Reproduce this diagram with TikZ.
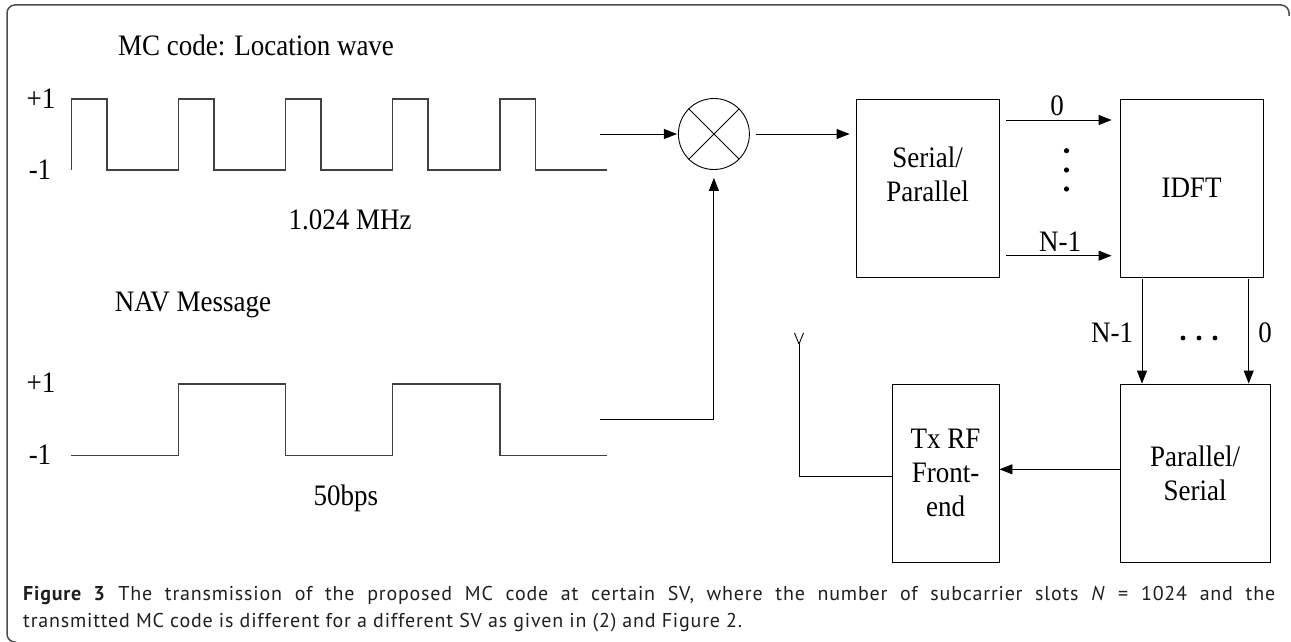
\documentclass[tikz,border=0pt]{standalone}
\usepackage{graphicx}
\usepackage{fontspec}
\setmainfont{Liberation Serif}
\newfontfamily\capfont[LetterSpace=4.0]{PT Sans}
\newcommand\tl[1]{\scalebox{1}[1.1]{#1}}
\usetikzlibrary{arrows.meta}
\begin{document}
\begin{tikzpicture}[x=1pt,y=-1pt,
  lbl/.style={font=\fontsize{27}{34}\selectfont, inner sep=0pt},
  blk/.style={draw, line width=0.9pt, minimum width=#1, minimum height=178pt, inner sep=0pt, align=center, font=\fontsize{27}{34}\selectfont},
  wave/.style={draw=black!75, line width=1.2pt},
  conn/.style={line width=0.9pt},
  arr/.style={conn, -{Triangle[length=13pt,width=10pt]}},
  frame/.style={draw=black!70, line width=1.5pt}
]
\useasboundingbox (0,0) rectangle (1291,642);
% frame
\draw[frame, rounded corners=8pt] (16,642) -- (7,642) -- (7,5) -- (1289,5) -- (1289,16);

% texts of the waves
\node[lbl] (title) at (256,45) {\tl{MC code: Location wave}};
\node[lbl] (pA) at (41,99) {\tl{+1}};
\node[lbl] (mA) at (40,170) {\tl{-1}};
\node[lbl] (fA) at (350,220) {\tl{1.024 MHz}};
\node[lbl] (nav) at (193,305) {\tl{NAV Message}};
\node[lbl] (pB) at (41,383) {\tl{+1}};
\node[lbl] (mB) at (40,455) {\tl{-1}};
\node[lbl] (fB) at (346,498) {\tl{50bps}};

% location wave
\draw[wave] (71.4,170) -- (71.4,99) -- (107,99) -- (107,170) -- (178.4,170) -- (178.4,99) -- (214,99) -- (214,170)
  -- (285.5,170) -- (285.5,99) -- (321,99) -- (321,170) -- (392.5,170) -- (392.5,99) -- (428,99) -- (428,170)
  -- (500,170) -- (500,99) -- (535.7,99) -- (535.7,170) -- (607,170);
% NAV wave
\draw[wave] (71.4,455.7) -- (178.4,455.7) -- (178.4,384) -- (285.5,384) -- (285.5,455.7) -- (392.5,455.7)
  -- (392.5,384) -- (500,384) -- (500,455.7) -- (607,455.7);

% multiplier
\node[draw, circle, line width=0.9pt, minimum size=71pt, inner sep=0pt] (mult) at (713.9,134) {};
\draw[conn] (mult.north west) -- (mult.south east);
\draw[conn] (mult.north east) -- (mult.south west);

% blocks
\node[blk=143pt] (sp) at (927.5,188) {\tl{Serial/}\\\tl{Parallel}\\[-6pt]\mbox{}};
\node[blk=143pt] (idft) at (1191.5,188) {\tl{IDFT}};
\node[blk=150pt] (ps) at (1195,473) {\tl{Parallel/}\\\tl{Serial}};
\node[blk=107pt] (tx) at (945.5,473) {\tl{Tx RF}\\\tl{Front-}\\\tl{end}};

% coordinates
\coordinate (aEnd) at (600,134);
\coordinate (bEnd) at (600,419);
\coordinate (bCorner) at (713.9,419);
\coordinate (ant) at (799,476.7);
\coordinate (antTop) at (799,344);

\draw[arr, shorten >=1pt] (aEnd) -- (mult.west);
\draw[arr, shorten <=6.5pt, shorten >=6pt] (mult.east) -- (sp.west |- mult.east);
\draw[conn] (bEnd) -- (bCorner);
\draw[arr, shorten >=8pt] (bCorner) -- (mult.south);

% S/P to IDFT
\draw[arr, shorten <=7pt, shorten >=8pt] (sp.east |- 0,120) -- (idft.west |- 0,120);
\draw[arr, shorten <=7pt, shorten >=8pt] (sp.east |- 0,255.7) -- (idft.west |- 0,255.7);
\node[lbl] (l0) at (1057,106) {\tl{0}};
\node[lbl] (lN) at (1060,242) {\tl{N-1}};
\foreach \yy [count=\i] in {150.7,170,189} \fill (1066.5,\yy) circle (2.6pt) coordinate (vd\i);

% IDFT to P/S
\draw[arr, shorten <=2pt] (idft.south -| 1142,0) -- (ps.north -| 1142,0);
\draw[arr, shorten <=2pt] (idft.south -| 1248.7,0) -- (ps.north -| 1248.7,0);
\node[lbl] (l2) at (1112,333) {\tl{N-1}};
\node[lbl] (l3) at (1265,333) {\tl{0}};
\foreach \xx [count=\i] in {1183,1199,1215} \fill (\xx,338) circle (2.4pt) coordinate (hd\i);

% P/S to Tx
\draw[arr] (ps.west |- 0,469.3) -- (tx.east |- 0,469.3);
% antenna
\draw[conn] (tx.west |- ant) -- (ant) -- (antTop);
\draw[conn] (antTop) -- (794.5,333);
\draw[conn] (antTop) -- (803.5,333);

% caption
\node[anchor=base west, inner sep=0pt, text width=1252pt, align=justify,
  font=\capfont\fontsize{20}{27}\selectfont, text=black!88] (cap) at (23,600)
  {\textbf{Figure 3} The transmission of the proposed MC code at certain SV, where the number of subcarrier slots \textit{N} = 1024 and the\linebreak
   transmitted MC code is different for a different SV as given in (2) and Figure 2.};
\end{tikzpicture}
\end{document}
